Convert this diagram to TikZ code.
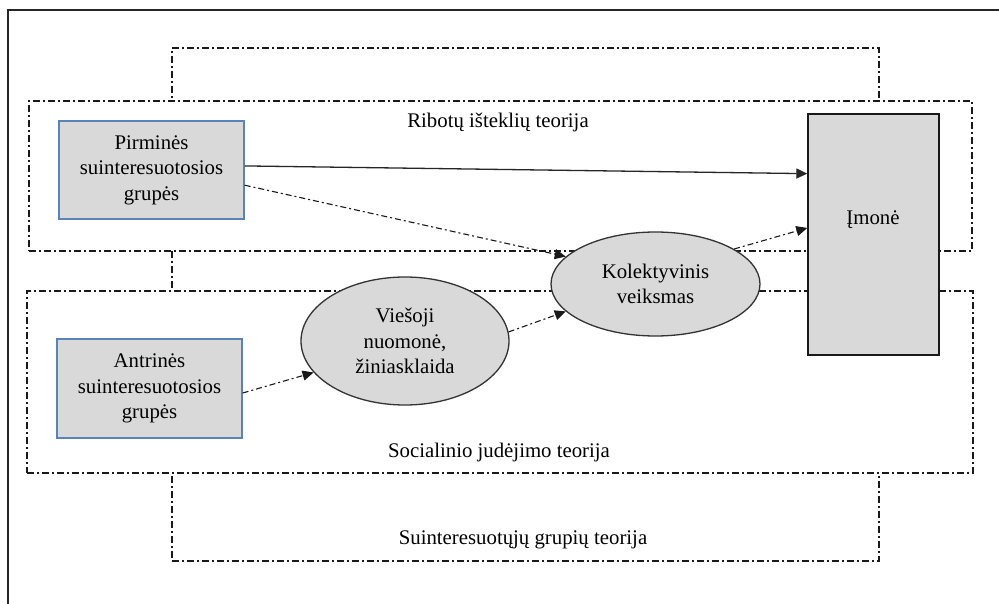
\documentclass[tikz,border=0pt]{standalone}
\usepackage{fontspec}
\setmainfont{LiberationSerif}[Extension=.ttf, UprightFont=*-Regular, BoldFont=*-Bold, ItalicFont=*-Italic]
\usetikzlibrary{arrows.meta,calc,shapes.geometric}
\definecolor{boxfill}{HTML}{D9D9D9}
\definecolor{boxblue}{HTML}{5A84B5}
\definecolor{edgegray}{HTML}{333333}
\begin{document}
\begin{tikzpicture}[x=1pt,y=-1pt,
  every node/.style={font=\rmfamily\fontsize{20.8pt}{25.5pt}\selectfont},
  region/.style={draw=black!90, line width=1.1pt, dash pattern=on 7pt off 3pt on 2pt off 3pt, inner sep=0pt, outer sep=0pt, rectangle},
  lbl/.style={inner sep=0pt},
  sbox/.style={rectangle, draw=boxblue, fill=boxfill, line width=1.3pt, align=center, inner sep=0pt, minimum width=185pt},
  mbox/.style={rectangle, draw=black!90, fill=boxfill, line width=1.4pt, inner sep=0pt},
  ell/.style={ellipse, draw=edgegray, fill=boxfill, line width=1.3pt, align=center, inner sep=0pt},
  arr/.style={-{Triangle[length=11pt,width=10pt]}, line width=1.3pt, draw=black!85},
  dda/.style={-{Triangle[length=11pt,width=10pt]}, line width=1.1pt, draw=black!90, dash pattern=on 6pt off 3pt on 2pt off 3pt}
]
\useasboundingbox (0,0) rectangle (999,604);
\fill[white] (0,0) rectangle (999,604);
\draw[line width=2pt, black!85] (8,620) -- (8,10) -- (1010,10);

% theory regions
\node[region, minimum width=707pt, minimum height=513pt] (stk) at (525.5,304.5) {};
\node[region, fill=white, minimum width=943pt, minimum height=150pt] (rbt) at (500.5,176) {};
\node[region, fill=white, minimum width=946pt, minimum height=182pt] (soc) at (500,382) {};

\node[lbl] (rbtl) at (498,122) {Ribotų išteklių teorija};
\node[lbl] (socl) at (499,452) {Socialinio judėjimo teorija};
\node[lbl] (stkl) at (523,540) {Suinteresuotųjų grupių teorija};

% boxes
\node[sbox, minimum height=98pt] (p) at (151.5,170) {Pirminės\\suinteresuotosios\\grupės};
\node[sbox, minimum height=99pt] (a) at (149.5,388.5) {Antrinės\\suinteresuotosios\\grupės};
\node[mbox, minimum width=131pt, minimum height=241pt] (m) at (873.5,234.5) {};
\node[lbl] (mtext) at (873,220) {Įmonė};

% ellipses
\node[ell, minimum width=208pt, minimum height=128pt] (v) at (405,341) {Viešoji\\nuomonė,\\žiniasklaida};
\node[ell, minimum width=209pt, minimum height=104pt] (k) at (655.5,284) {Kolektyvinis\\veiksmas};

% connectors
\draw[arr] ($(p.north east)!0.459!(p.south east)$) -- ($(m.north west)!0.249!(m.south west)$);
\draw[dda] ($(p.north east)!0.653!(p.south east)$) -- (k.163);
\draw[dda] ($(a.north east)!0.545!(a.south east)$) -- (v.199);
\draw[dda] (v.5) -- (k.197);
\draw[dda] (k.24) -- ($(m.north west)!0.473!(m.south west)$);
\end{tikzpicture}
\end{document}
